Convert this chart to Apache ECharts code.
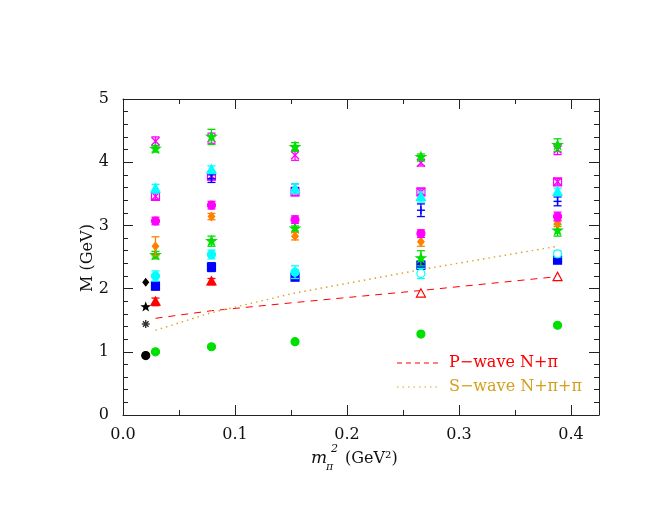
<!DOCTYPE html>
<html><head><meta charset="utf-8">
<script src="https://cdn.jsdelivr.net/npm/echarts@6/dist/echarts.min.js"></script>
<style>html,body{margin:0;padding:0;background:#fff}#c{width:664px;height:513px}</style>
</head><body><div id="c"></div>
<script>
// ---- data ----
const xs = [0.029, 0.079, 0.1536, 0.266, 0.388];
const xExp = 0.0203;
const expCircle = [0.94];
const expAsterisk = [1.44];
const expStar = [1.71];
const expDiamond = [2.10];

const nucleon = [1.00, 1.08, 1.16, 1.28, 1.42];
const nucleonErr = [0.02, 0.02, 0.02, 0.02, 0.02];
const redTriFilled = [1.79, 2.11, null, null, null];
const redTriOpen = [null, null, null, 1.92, 2.18];
const redTriErr = [0.06, 0.05, 0, 0, 0];
const blueSq = [2.04, 2.34, 2.18, 2.37, 2.45];
const blueSqErr = [0.06, 0.07, 0.05, 0.06, 0.04];
const cyanCircFilled = [2.20, 2.54, 2.26, null, null];
const cyanCircOpen = [null, null, null, 2.24, 2.55];
const cyanCircErr = [0.08, 0.07, 0.10, 0.08, 0.05];
const greenStarLo = [2.53, 2.75, 2.95, 2.48, 2.92];
const greenStarLoErr = [0.06, 0.08, 0.04, 0.12, 0.09];
const orangeDia = [2.67, 3.14, 2.83, 2.74, 3.03];
const orangeDiaErr = [0.15, 0.05, 0.06, 0.07, 0.05];
const magCirc = [3.07, 3.32, 3.09, 2.87, 3.14];
const magCircErr = [0.06, 0.06, 0.06, 0.06, 0.07];
const magSq = [3.46, 3.78, 3.53, 3.53, 3.69];
const magSqErr = [0.05, 0.06, 0.06, 0.05, 0.05];
const bluePlus = [null, 3.74, 3.60, 3.24, 3.38];
const bluePlusErr = [0, 0.06, 0.06, 0.10, 0.07];
const cyanTri = [3.58, 3.88, 3.58, 3.45, 3.53];
const cyanTriErr = [0.07, 0.06, 0.08, 0.08, 0.06];
const magX = [4.33, 4.38, 4.11, 3.99, 4.20];
const magXErr = [0.07, 0.08, 0.08, 0.05, 0.08];
const greenStarHi = [4.21, 4.40, 4.24, 4.08, 4.27];
const greenStarHiErr = [0.05, 0.12, 0.07, 0.05, 0.10];

const pWave = [1.53, 1.65, 1.78, 1.97, 2.19];
const sWave = [1.34, 1.62, 1.93, 2.30, 2.67];

const xMajor = [0, 0.1, 0.2, 0.3, 0.4];
const xMinor = [0.05, 0.15, 0.25, 0.35];
const yMajor = [0, 1, 2, 3, 4, 5];
const yMinor = [0.2,0.4,0.6,0.8,1.2,1.4,1.6,1.8,2.2,2.4,2.6,2.8,3.2,3.4,3.6,3.8,4.2,4.4,4.6,4.8];

// ---- helpers ----
function pts(vals, errs, xv) {
  const out = [];
  vals.forEach((v, i) => { if (v !== null) out.push([xv ? xv[i] : xExp, v, errs ? errs[i] : 0]); });
  return out;
}
function symbolShapes(kind, cx, cy, s, color, filled) {
  const r = s / 2;
  const fill = filled ? color : '#fff';
  const st = {fill: fill, stroke: color, lineWidth: 1.2};
  const ln = (x1,y1,x2,y2) => ({type:'line', shape:{x1,y1,x2,y2}, style:{stroke:color, lineWidth:1.4}});
  switch (kind) {
    case 'circle': return [{type:'circle', shape:{cx, cy, r}, style: st}];
    case 'square': return [{type:'rect', shape:{x:cx-r, y:cy-r, width:s, height:s}, style: st}];
    case 'squareX': return [{type:'rect', shape:{x:cx-r, y:cy-r, width:s, height:s}, style:{fill:'none', stroke:color, lineWidth:1.2}},
      ln(cx-r, cy-r, cx+r, cy+r), ln(cx-r, cy+r, cx+r, cy-r)];
    case 'triangle': return [{type:'polygon', shape:{points:[[cx, cy-r*1.1],[cx+r, cy+r*0.75],[cx-r, cy+r*0.75]]}, style: st}];
    case 'diamond': return [{type:'polygon', shape:{points:[[cx, cy-r],[cx+r*0.8, cy],[cx, cy+r],[cx-r*0.8, cy]]}, style: st}];
    case 'star': {
      const p = [];
      for (let k = 0; k < 10; k++) {
        const rr = k % 2 === 0 ? r * 1.1 : r * 0.45;
        const a = -Math.PI/2 + k * Math.PI/5;
        p.push([cx + rr*Math.cos(a), cy + rr*Math.sin(a)]);
      }
      return [{type:'polygon', shape:{points:p}, style: st}];
    }
    case 'x': return [ln(cx-r, cy-r, cx+r, cy+r), ln(cx-r, cy+r, cx+r, cy-r)];
    case 'plus': return [ln(cx-r, cy, cx+r, cy), ln(cx, cy-r, cx, cy+r)];
    case 'asterisk': {
      const out = [];
      for (let k = 0; k < 4; k++) {
        const a = k * Math.PI/4;
        out.push(ln(cx - r*Math.cos(a), cy - r*Math.sin(a), cx + r*Math.cos(a), cy + r*Math.sin(a)));
      }
      out.push({type:'circle', shape:{cx, cy, r:r*0.45}, style:{fill:color}});
      return out;
    }
  }
  return [];
}
function pointSeries(data, kind, color, filled, size) {
  return {
    type: 'custom', xAxisIndex: 0, yAxisIndex: 0, data: data,
    encode: {x: 0, y: 1},
    renderItem: function (params, api) {
      const x = api.value(0), y = api.value(1), e = api.value(2);
      const p = api.coord([x, y]);
      const ch = [];
      if (e > 0) {
        const t = api.coord([x, y + e])[1], b = api.coord([x, y - e])[1];
        const cw = 4;
        const sty = {stroke: color, lineWidth: 1.3};
        ch.push({type:'line', shape:{x1:p[0], y1:t, x2:p[0], y2:b}, style: sty});
        ch.push({type:'line', shape:{x1:p[0]-cw, y1:t, x2:p[0]+cw, y2:t}, style: sty});
        ch.push({type:'line', shape:{x1:p[0]-cw, y1:b, x2:p[0]+cw, y2:b}, style: sty});
      }
      symbolShapes(kind, p[0], p[1], size, color, filled).forEach(c => ch.push(c));
      return {type: 'group', children: ch};
    }
  };
}

const FONT = 'DejaVu Serif';
const AX = '#222';
function xAx(pos, vals, len, showLine, showLabel) {
  return {
    type: 'value', position: pos, min: 0, max: 0.425, gridIndex: 0,
    axisLine: {show: showLine, onZero: false, lineStyle: {color: AX, width: 1}},
    axisTick: {show: true, inside: true, length: len, customValues: vals, lineStyle: {color: AX, width: 1}},
    axisLabel: {show: showLabel, customValues: vals, formatter: v => v.toFixed(1), color: '#111',
      fontFamily: FONT, fontSize: 16, margin: 12},
    splitLine: {show: false}
  };
}
function yAx(pos, vals, len, showLine, showLabel) {
  return {
    type: 'value', position: pos, min: 0, max: 5, gridIndex: 0,
    axisLine: {show: showLine, onZero: false, lineStyle: {color: AX, width: 1}},
    axisTick: {show: true, inside: true, length: len, customValues: vals, lineStyle: {color: AX, width: 1}},
    axisLabel: {show: showLabel, customValues: vals, formatter: v => String(v), color: '#111',
      fontFamily: FONT, fontSize: 16, margin: 14},
    splitLine: {show: false}
  };
}

const chart = echarts.init(document.getElementById('c'), null, {renderer: 'canvas'});
const option = {
  animation: false,
  backgroundColor: '#fff',
  grid: {left: 123, top: 99, width: 476, height: 316, containLabel: false},
  xAxis: [xAx('bottom', xMajor, 10, true, true), xAx('bottom', xMinor, 5, false, false),
          xAx('top', xMajor, 10, true, false), xAx('top', xMinor, 5, false, false)],
  yAxis: [yAx('left', yMajor, 10, true, true), yAx('left', yMinor, 5, false, false),
          yAx('right', yMajor, 10, true, false), yAx('right', yMinor, 5, false, false)],
  series: [
    {type: 'line', xAxisIndex: 0, yAxisIndex: 0, data: xs.map((x, i) => [x, pWave[i]]), symbol: 'none',
     lineStyle: {color: '#ff0000', width: 1, type: [7, 6]}, z: 1},
    {type: 'line', xAxisIndex: 0, yAxisIndex: 0, data: xs.map((x, i) => [x, sWave[i]]), symbol: 'none',
     lineStyle: {color: '#e0a020', width: 1.4, type: [1.5, 4]}, z: 1},
    pointSeries(pts(expCircle), 'circle', '#000', true, 8),
    pointSeries(pts(expAsterisk), 'asterisk', '#333', true, 8),
    pointSeries(pts(expStar), 'star', '#000', true, 7),
    pointSeries(pts(expDiamond), 'diamond', '#000', true, 7),
    pointSeries(pts(nucleon, nucleonErr, xs), 'circle', '#00e000', true, 8),
    pointSeries(pts(redTriFilled, redTriErr, xs), 'triangle', '#ff0000', true, 9),
    pointSeries(pts(redTriOpen, redTriErr, xs), 'triangle', '#ff0000', false, 9),
    pointSeries(pts(blueSq, blueSqErr, xs), 'square', '#0000ff', true, 8),
    pointSeries(pts(cyanCircFilled, cyanCircErr, xs), 'circle', '#00ffff', true, 8),
    pointSeries(pts(cyanCircOpen, cyanCircErr, xs), 'circle', '#00ffff', false, 8),
    pointSeries(pts(greenStarLo, greenStarLoErr, xs), 'star', '#00e000', true, 9),
    pointSeries(pts(orangeDia, orangeDiaErr, xs), 'diamond', '#ff8000', true, 8),
    pointSeries(pts(magCirc, magCircErr, xs), 'circle', '#ff00ff', true, 8),
    pointSeries(pts(magSq, magSqErr, xs), 'squareX', '#ff00ff', false, 8),
    pointSeries(pts(bluePlus, bluePlusErr, xs), 'plus', '#0000ff', false, 8),
    pointSeries(pts(cyanTri, cyanTriErr, xs), 'triangle', '#00ffff', true, 9),
    pointSeries(pts(magX, magXErr, xs), 'x', '#ff00ff', false, 8),
    pointSeries(pts(greenStarHi, greenStarHiErr, xs), 'star', '#00e000', true, 9)
  ],
  graphic: [
    {type: 'text', x: 88, y: 258, rotation: Math.PI/2, style: {text: 'M (GeV)', fill: '#111', font: '16px "DejaVu Serif"', align: 'center', verticalAlign: 'middle'}},
    {type: 'text', x: 311, y: 459, style: {text: 'm', fill: '#111', font: 'italic 17px "DejaVu Serif"', verticalAlign: 'middle'}},
    {type: 'text', x: 326, y: 467, style: {text: 'π', fill: '#111', font: 'italic 11px "DejaVu Serif"', verticalAlign: 'middle'}},
    {type: 'text', x: 331, y: 449, style: {text: '2', fill: '#111', font: 'italic 11px "DejaVu Serif"', verticalAlign: 'middle'}},
    {type: 'text', x: 345, y: 459, style: {text: '(GeV²)', fill: '#111', font: '16px "DejaVu Serif"', verticalAlign: 'middle'}},
    {type: 'line', shape: {x1: 397, y1: 363, x2: 438, y2: 363}, style: {stroke: '#ff0000', lineWidth: 1, lineDash: [5, 4]}},
    {type: 'text', x: 449, y: 363, style: {text: 'P−wave N+π', fill: '#ff0000', font: '16px "DejaVu Serif"', verticalAlign: 'middle'}},
    {type: 'line', shape: {x1: 397, y1: 387, x2: 438, y2: 387}, style: {stroke: '#e0a020', lineWidth: 1.2, lineDash: [1.5, 4]}},
    {type: 'text', x: 449, y: 387, style: {text: 'S−wave N+π+π', fill: '#d4a020', font: '16px "DejaVu Serif"', verticalAlign: 'middle'}}
  ]
};
chart.setOption(option);
</script></body></html>
